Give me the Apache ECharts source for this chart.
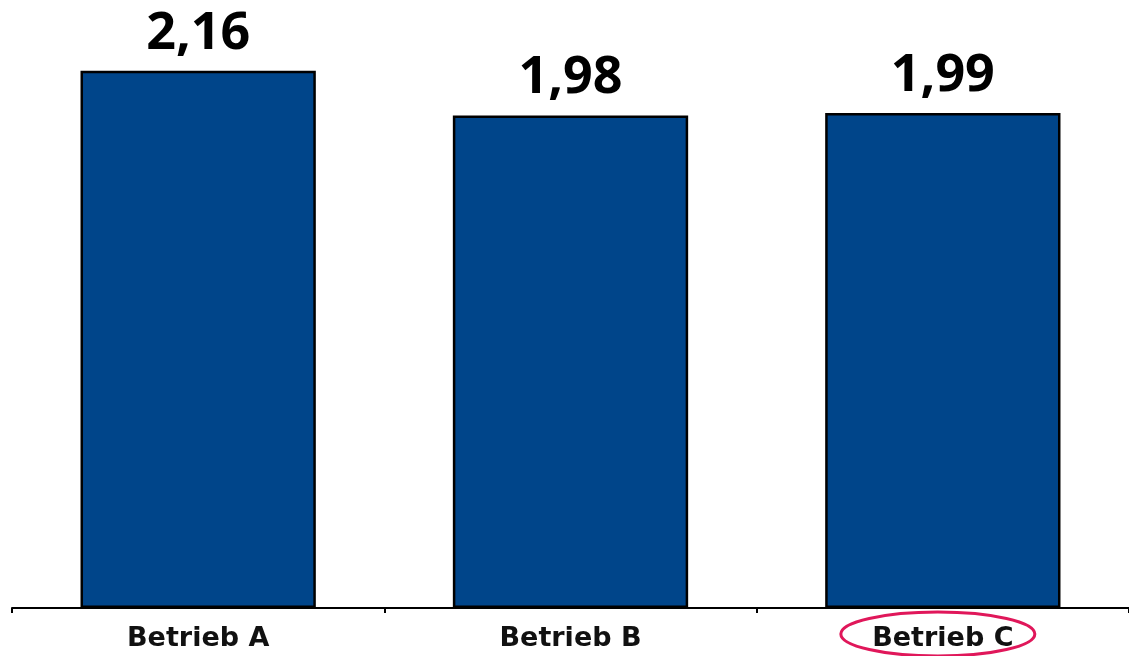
<!DOCTYPE html>
<html>
<head>
<meta charset="utf-8">
<script src="https://cdn.jsdelivr.net/npm/echarts@6/dist/echarts.min.js"></script>
<style>
html,body{margin:0;padding:0;background:#fff;}
#c{width:1129px;height:656px;}
</style>
</head>
<body>
<div id="c"></div>
<script>
const categories = ['Betrieb A', 'Betrieb B', 'Betrieb C'];
const values = [2.16, 1.98, 1.99];
const highlighted = 'Betrieb C';

const chart = echarts.init(document.getElementById('c'), null, {renderer: 'canvas'});
chart.setOption({
  animation: false,
  backgroundColor: '#ffffff',
  grid: {left: 12, width: 1119, top: 11, bottom: 48},
  xAxis: {
    type: 'category',
    data: categories,
    axisLine: {lineStyle: {color: '#000', width: 2}},
    axisTick: {show: true, length: 5, lineStyle: {color: '#000', width: 2}},
    axisLabel: {
      fontFamily: 'DejaVu Sans', fontWeight: 'bold', fontSize: 27,
      color: '#111', margin: 17
    }
  },
  yAxis: {type: 'value', min: 0, max: 2.4, show: false, splitLine: {show: false}},
  series: [{
    type: 'bar',
    data: values,
    barWidth: '63.2%',
    itemStyle: {color: '#00458A', borderColor: '#000', borderWidth: 2.5},
    label: {
      show: true, position: 'top', distance: 11,
      fontFamily: 'Open Sans', fontWeight: 'bold', fontSize: 52, color: '#000',
      formatter: p => p.value.toFixed(2).replace('.', ',')
    }
  }]
});

const cx = chart.convertToPixel({xAxisIndex: 0}, highlighted);
const base = chart.convertToPixel({yAxisIndex: 0}, 0);
chart.setOption({
  graphic: [{
    type: 'ellipse',
    shape: {cx: cx - 5, cy: base + 26, rx: 97, ry: 22},
    style: {fill: 'none', stroke: '#E0175A', lineWidth: 3}
  }]
});
</script>
</body>
</html>
